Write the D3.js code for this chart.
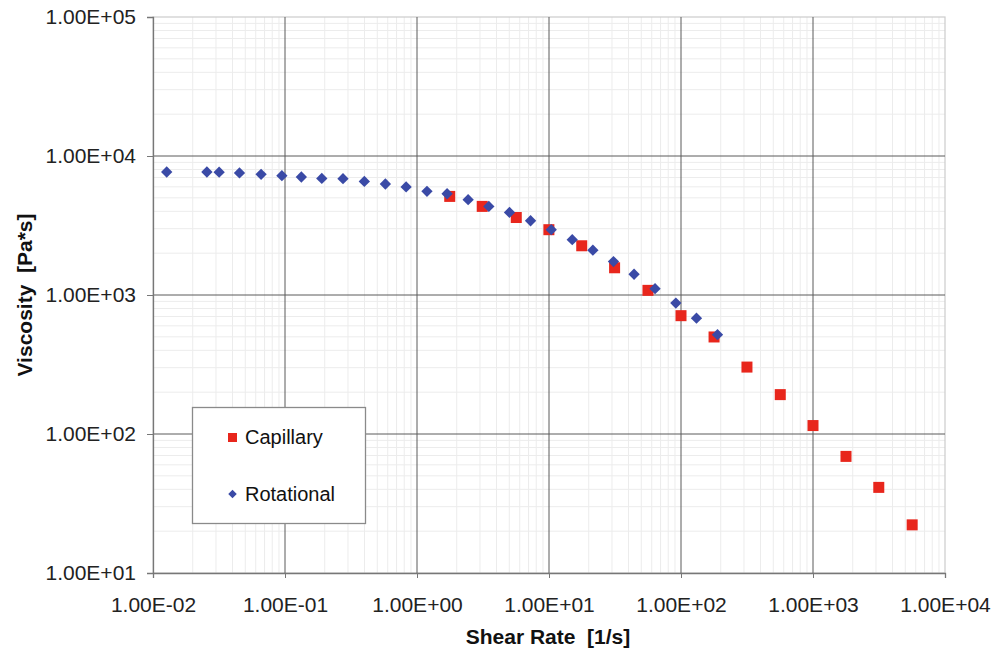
<!DOCTYPE html>
<html>
<head>
<meta charset="utf-8">
<script src="https://cdn.jsdelivr.net/npm/d3@7"></script>
<style>
  html, body { margin: 0; padding: 0; background: #fff; }
  svg { display: block; font-family: "Liberation Sans", Arial, sans-serif; }
  .pre { white-space: pre; }
</style>
</head>
<body>
<svg id="chart" width="1005" height="651"></svg>
<script>
// ---- data ----
const rotationalShear = [0.0127, 0.0256, 0.0317, 0.0452, 0.0659, 0.0947, 0.133, 0.19, 0.275, 0.399, 0.576, 0.827, 1.19, 1.69, 2.44, 3.5, 5.02, 7.25, 10.4, 15.0, 21.5, 30.8, 44.1, 63.6, 91.4, 131, 189];
const rotationalVisc  = [7670, 7670, 7650, 7550, 7380, 7220, 7060, 6900, 6870, 6560, 6290, 5990, 5570, 5350, 4850, 4340, 3930, 3420, 2950, 2500, 2100, 1740, 1410, 1110, 875, 681, 518];
const capillaryShear = [1.77, 3.12, 5.65, 9.98, 17.7, 31.4, 56.2, 100, 178, 316, 565, 1000, 1778, 3150, 5640];
const capillaryVisc  = [5120, 4340, 3610, 2950, 2260, 1570, 1080, 710, 499, 303, 192, 115, 69, 41.3, 22.2];
const xTicks = [1e-2, 1e-1, 1e0, 1e1, 1e2, 1e3, 1e4];
const xTickLabels = ["1.00E-02", "1.00E-01", "1.00E+00", "1.00E+01", "1.00E+02", "1.00E+03", "1.00E+04"];
const yTicks = [1e1, 1e2, 1e3, 1e4, 1e5];
const yTickLabels = ["1.00E+01", "1.00E+02", "1.00E+03", "1.00E+04", "1.00E+05"];
const seriesNames = ["Capillary", "Rotational"];

// ---- layout ----
const svg = d3.select("#chart");
const L = 153, R = 945, T = 17, B = 573;
const x = d3.scaleLog().domain([1e-2, 1e4]).range([L, R]);
const y = d3.scaleLog().domain([1e1, 1e5]).range([B, T]);

// minor grid
const minorX = [], minorY = [];
for (let e = -2; e < 4; e++) for (let k = 2; k <= 9; k++) minorX.push(k * Math.pow(10, e));
for (let e = 1; e < 5; e++) for (let k = 2; k <= 9; k++) minorY.push(k * Math.pow(10, e));
const g = svg.append("g");
g.selectAll(".mx").data(minorX).enter().append("line")
  .attr("x1", d => x(d)).attr("x2", d => x(d)).attr("y1", T).attr("y2", B)
  .attr("stroke", "#ececec").attr("stroke-width", 1);
g.selectAll(".my").data(minorY).enter().append("line")
  .attr("y1", d => y(d)).attr("y2", d => y(d)).attr("x1", L).attr("x2", R)
  .attr("stroke", "#ececec").attr("stroke-width", 1);

// border (light)
g.append("rect").attr("x", L).attr("y", T).attr("width", R - L).attr("height", B - T)
  .attr("fill", "none").attr("stroke", "#cccccc").attr("stroke-width", 1.2);

// major grid
g.selectAll(".Mx").data(xTicks.slice(1, -1)).enter().append("line")
  .attr("x1", d => x(d)).attr("x2", d => x(d)).attr("y1", T).attr("y2", B)
  .attr("stroke", "#5a5a5a").attr("stroke-width", 1);
g.selectAll(".My").data(yTicks.slice(1, -1)).enter().append("line")
  .attr("y1", d => y(d)).attr("y2", d => y(d)).attr("x1", L).attr("x2", R)
  .attr("stroke", "#5a5a5a").attr("stroke-width", 1);

// axes
const xAxis = d3.axisBottom(x).tickValues(xTicks).tickSize(5).tickPadding(8)
  .tickFormat((d, i) => xTickLabels[i]);
const yAxis = d3.axisLeft(y).tickValues(yTicks).tickSize(6).tickPadding(10)
  .tickFormat((d, i) => yTickLabels[i]);
const gx = svg.append("g").attr("transform", `translate(0,${B})`).call(xAxis);
const gy = svg.append("g").attr("transform", `translate(${L},0)`).call(yAxis);
[gx, gy].forEach(a => {
  a.select(".domain").attr("stroke", "#777").attr("stroke-width", 1.3);
  a.selectAll(".tick line").attr("stroke", "#777");
  a.selectAll("text").attr("font-size", 21).attr("fill", "#222")
    .attr("font-family", "Liberation Sans, Arial, sans-serif");
});
gx.selectAll("text").attr("dy", "0").attr("y", 39);
gy.selectAll("text").attr("x", -17);

// axis titles
svg.append("text").attr("class", "pre").attr("x", 548).attr("y", 644)
  .attr("text-anchor", "middle").attr("font-weight", "bold").attr("font-size", 21)
  .attr("fill", "#111").text("Shear Rate  [1/s]");
svg.append("text").attr("class", "pre").attr("transform", `translate(32,${295}) rotate(-90)`)
  .attr("text-anchor", "middle").attr("font-weight", "bold").attr("font-size", 21)
  .attr("fill", "#111").text("Viscosity  [Pa*s]");

// data points
const rot = rotationalShear.map((s, i) => ({ s, v: rotationalVisc[i] }));
const cap = capillaryShear.map((s, i) => ({ s, v: capillaryVisc[i] }));
svg.append("g").selectAll("rect").data(cap).enter().append("rect")
  .attr("x", d => x(d.s) - 5.5).attr("y", d => y(d.v) - 5.5)
  .attr("width", 11).attr("height", 11).attr("fill", "#e8261c");
svg.append("g").selectAll("path").data(rot).enter().append("path")
  .attr("d", d3.symbol().type(d3.symbolSquare).size(64))
  .attr("transform", d => `translate(${x(d.s)},${y(d.v)}) rotate(45)`)
  .attr("fill", "#3a4aa6");

// legend
const lg = svg.append("g");
lg.append("rect").attr("x", 192.5).attr("y", 407.5).attr("width", 173).attr("height", 116)
  .attr("fill", "#fff").attr("stroke", "#8a8a8a").attr("stroke-width", 1.3);
lg.append("rect").attr("x", 228).attr("y", 433).attr("width", 9).attr("height", 9).attr("fill", "#e8261c");
lg.append("path").attr("d", d3.symbol().type(d3.symbolSquare).size(36))
  .attr("transform", "translate(232.5,494) rotate(45)").attr("fill", "#3a4aa6");
lg.append("text").attr("x", 245).attr("y", 444).attr("font-size", 20).attr("fill", "#111").text(seriesNames[0]);
lg.append("text").attr("x", 245).attr("y", 501).attr("font-size", 20).attr("fill", "#111").text(seriesNames[1]);
</script>
</body>
</html>
